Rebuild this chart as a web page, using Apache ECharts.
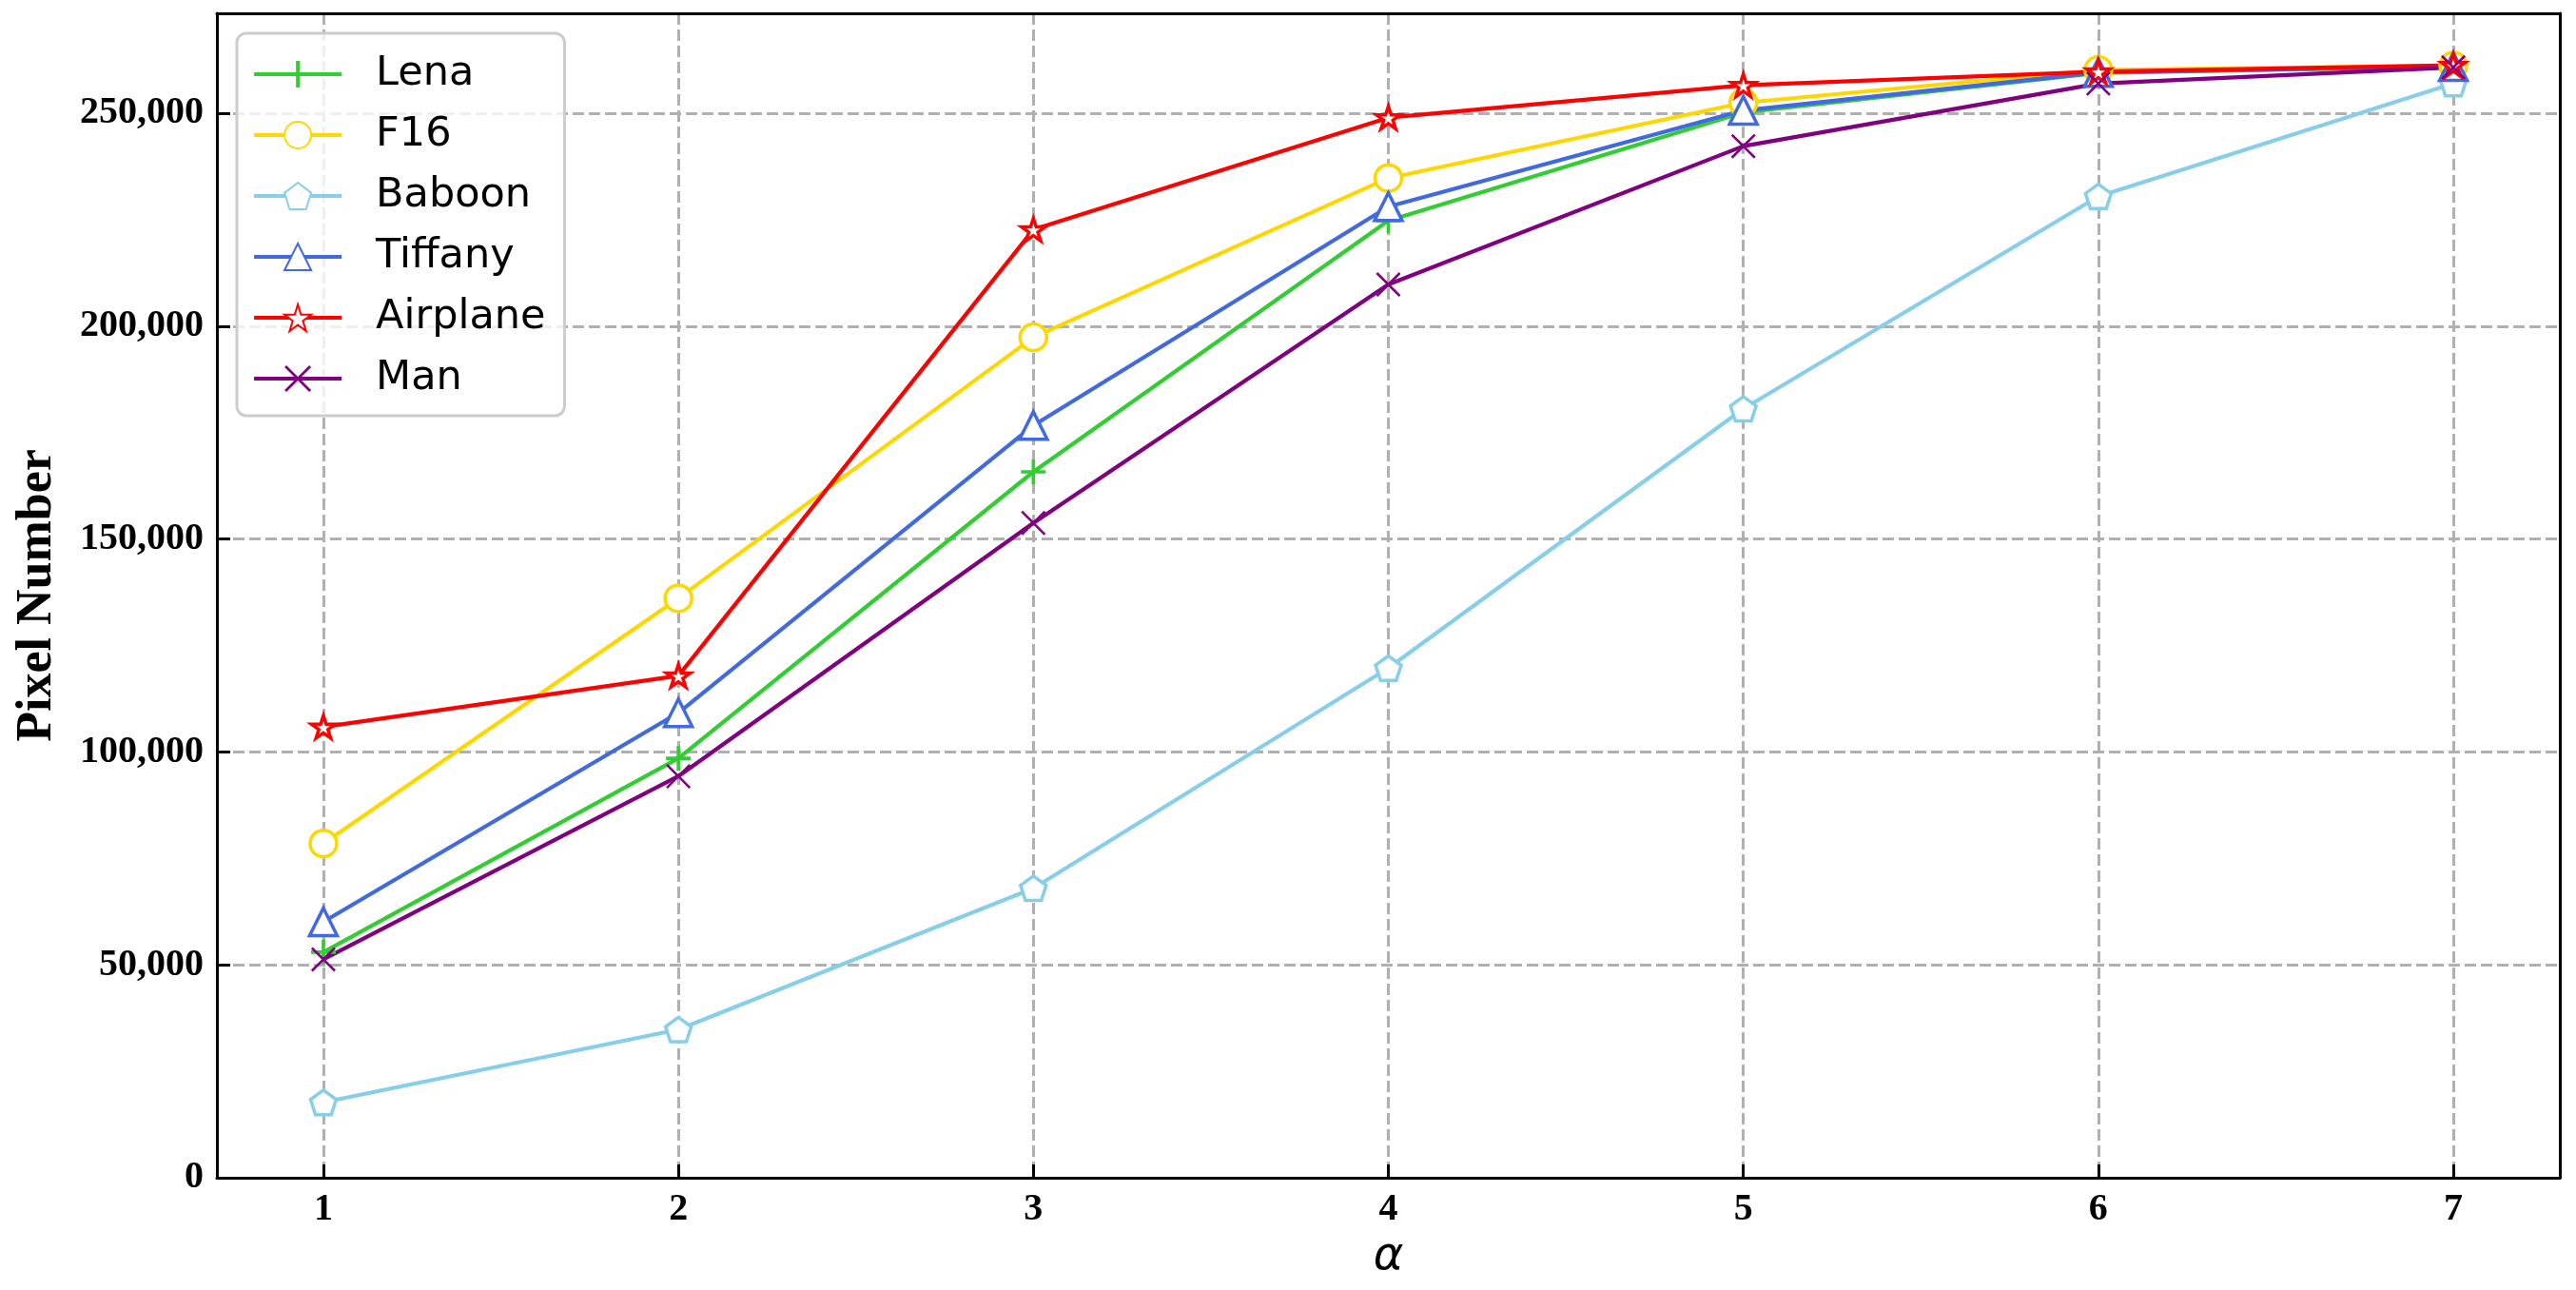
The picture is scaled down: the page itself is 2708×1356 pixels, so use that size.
<!DOCTYPE html>
<html>
<head>
<meta charset="utf-8">
<script src="https://cdn.jsdelivr.net/npm/echarts@6/dist/echarts.min.js"></script>
<style>
  html, body { margin: 0; padding: 0; background: #fff; }
  #main { width: 2708px; height: 1356px; }
</style>
</head>
<body>
<div id="main"></div>
<script>
// 数据
var alpha = [1, 2, 3, 4, 5, 6, 7];
var names = ['Lena', 'F16', 'Baboon', 'Tiffany', 'Airplane', 'Man'];
var lena = [53000, 98500, 165800, 224800, 250200, 259500, 261000];
var f16 = [78500, 136100, 197400, 234800, 252500, 260200, 261200];
var baboon = [17700, 34800, 68000, 119700, 180600, 230500, 257000];
var tiffany = [60100, 109200, 176700, 228100, 250700, 259600, 261000];
var airplane = [105900, 117900, 222700, 249000, 256600, 259800, 261300];
var man = [51300, 94300, 153800, 209800, 242300, 257000, 260800];
var yTicks = [0, 50000, 100000, 150000, 200000, 250000];

// marker shapes
var starPath = 'path://M0,-100 L-22.45,-30.9 L-95.1,-30.9 L-36.33,11.8 L-58.8,80.9 L0,38.2 L58.8,80.9 L36.33,11.8 L95.1,-30.9 L22.45,-30.9 Z';
var pentaPath = 'path://M0,-100 L-95.1,-30.9 L-58.8,80.9 L58.8,80.9 L95.1,-30.9 Z';
var plusPath = 'path://M-7,-50 L7,-50 L7,-7 L50,-7 L50,7 L7,7 L7,50 L-7,50 L-7,7 L-50,7 L-50,-7 L-7,-7 Z';
var xPath = 'path://M-50,-43 L-43,-50 L0,-7 L43,-50 L50,-43 L7,0 L50,43 L43,50 L0,7 L-43,50 L-50,43 L-7,0 Z';

function pairs(vals) {
  var out = [];
  for (var i = 0; i < alpha.length; i++) out.push([alpha[i], vals[i]]);
  return out;
}

function mkSeries(name, vals, color, symbol, size, hollow) {
  return {
    name: name,
    type: 'line',
    data: pairs(vals),
    symbol: symbol,
    symbolSize: size,
    symbolKeepAspect: true,
    showAllSymbol: true,
    lineStyle: { color: color, width: 4.2 },
    itemStyle: hollow ? { color: '#fff', borderColor: color, borderWidth: 3.5 }
                      : { color: color, borderWidth: 0 },
    emphasis: { disabled: true }
  };
}

var myChart = echarts.init(document.getElementById('main'));
var serif = "'Liberation Serif', 'Times New Roman', serif";
var dashGrid = { show: true, lineStyle: { color: '#b0b0b0', width: 3, type: [12, 5] } };

var option = {
  animation: false,
  backgroundColor: '#fff',
  grid: { left: 228, right: 17, top: 14, bottom: 118, outerBoundsMode: 'none' },
  legend: {
    orient: 'vertical',
    left: 249,
    top: 35,
    align: 'left',
    data: names,
    itemWidth: 92,
    itemHeight: 35,
    itemGap: 14,
    padding: [18, 20, 14, 16],
    backgroundColor: 'rgba(255,255,255,0.8)',
    borderColor: '#cccccc',
    borderWidth: 3,
    borderRadius: 10,
    lineStyle: { width: 4.2 },
    textStyle: {
      fontFamily: "'DejaVu Sans', sans-serif",
      fontSize: 43,
      color: '#000',
      lineHeight: 50,
      padding: [0, 0, 0, 31]
    }
  },
  xAxis: [{
    type: 'value',
    min: 0.7,
    max: 7.3,
    splitNumber: 6,
    name: 'α',
    nameLocation: 'middle',
    nameGap: 60,
    nameTextStyle: { fontFamily: "'DejaVu Sans', sans-serif", fontStyle: 'italic', fontSize: 48, color: '#000' },
    axisLine: { show: true, lineStyle: { color: '#000', width: 3 } },
    axisTick: { show: true, inside: true, length: 14, lineStyle: { color: '#000', width: 3 } },
    axisLabel: { showMinLabel: false, showMaxLabel: false, margin: 14, fontFamily: serif, fontWeight: 'bold', fontSize: 40, color: '#000' },
    splitLine: dashGrid
  }, {
    type: 'value', position: 'top', min: 0.7, max: 7.3,
    axisLine: { show: true, onZero: false, lineStyle: { color: '#000', width: 3 } },
    axisTick: { show: false }, axisLabel: { show: false }, splitLine: { show: false }
  }],
  yAxis: [{
    type: 'value',
    min: yTicks[0],
    max: 273500,
    interval: 50000,
    name: 'Pixel Number',
    nameLocation: 'middle',
    nameGap: 162,
    nameTextStyle: { fontFamily: serif, fontWeight: 'bold', fontSize: 52, color: '#000' },
    axisLine: { show: true, lineStyle: { color: '#000', width: 3 } },
    axisTick: { show: true, inside: true, length: 14, lineStyle: { color: '#000', width: 3 } },
    axisLabel: {
      showMaxLabel: false, margin: 14, fontFamily: serif, fontWeight: 'bold', fontSize: 40, color: '#000',
      formatter: function (v) { return String(v).replace(/\B(?=(\d{3})+(?!\d))/g, ','); }
    },
    splitLine: dashGrid
  }, {
    type: 'value', position: 'right', min: 0, max: 273500,
    axisLine: { show: true, onZero: false, lineStyle: { color: '#000', width: 3 } },
    axisTick: { show: false }, axisLabel: { show: false }, splitLine: { show: false }
  }],
  series: [
    mkSeries('Lena', lena, '#32CD32', plusPath, 26, false),
    mkSeries('F16', f16, '#FFD700', 'circle', 28, true),
    mkSeries('Baboon', baboon, '#87CEEB', pentaPath, 27, true),
    mkSeries('Tiffany', tiffany, '#4169E1', 'triangle', 29, true),
    mkSeries('Airplane', airplane, '#FF0000', starPath, 25, true),
    mkSeries('Man', man, '#800080', xPath, 26, false)
  ]
};
myChart.setOption(option);
</script>
</body>
</html>
